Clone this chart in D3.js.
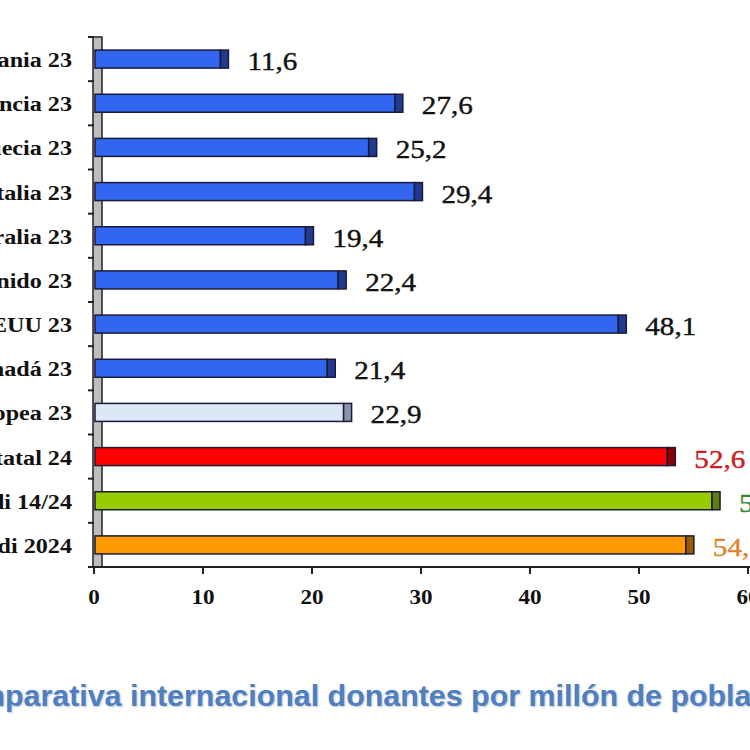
<!DOCTYPE html>
<html>
<head>
<meta charset="utf-8">
<script src="https://cdn.jsdelivr.net/npm/d3@7"></script>
<style>
  body { margin: 0; background: #fff; overflow: hidden; }
  svg { display: block; }
</style>
</head>
<body>
<div id="chart"></div>
<script>
// Chart data
const categories = ["Alemania 23", "Francia 23", "Suecia 23", "Italia 23", "Australia 23",
  "Reino Unido 23", "EEUU 23", "Canadá 23", "Unión Europea 23", "Media estatal 24",
  "Media Euskadi 14/24", "Euskadi 2024"];
const values = [11.6, 27.6, 25.2, 29.4, 19.4, 22.4, 48.1, 21.4, 22.9, 52.6, 56.7, 54.3];
const xTicks = [0, 10, 20, 30, 40, 50, 60];
const titleText = "Comparativa internacional donantes por millón de población";

// Colours per bar: face, end cap, value label
const faceColors = ["#3366f0", "#3366f0", "#3366f0", "#3366f0", "#3366f0", "#3366f0",
  "#3366f0", "#3366f0", "#dce8f7", "#ff0000", "#99cc00", "#ff9900"];
const capColors = ["#1f3a8f", "#1f3a8f", "#1f3a8f", "#1f3a8f", "#1f3a8f", "#1f3a8f",
  "#1f3a8f", "#1f3a8f", "#8a94a8", "#8b0000", "#5f7d10", "#9a5a00"];
const labelColors = ["#111", "#111", "#111", "#111", "#111", "#111",
  "#111", "#111", "#111", "#cc2020", "#2e8b2e", "#e0832a"];

const W = 750, H = 750;
const svg = d3.select("#chart").append("svg")
  .attr("width", W).attr("height", H);

const x = d3.scaleLinear().domain([0, 60]).range([94, 748]);
const y = d3.scaleBand().domain(categories).range([37, 567]);
const barH = 18, capW = 8;
const fmt = v => d3.format(".1f")(v).replace(".", ",");

// Grey 3D wall behind the bars
svg.append("rect")
  .attr("x", x(0) - 1).attr("y", 37)
  .attr("width", 9).attr("height", 567 - 37)
  .attr("fill", "#bdbdbd").attr("stroke", "#222").attr("stroke-width", 1.5);

// Y ticks at band boundaries
const bounds = categories.map(c => y(c)).concat([567]);
svg.selectAll("line.ytick").data(bounds).enter().append("line")
  .attr("class", "ytick")
  .attr("x1", x(0) - 6).attr("x2", x(0))
  .attr("y1", d => d).attr("y2", d => d)
  .attr("stroke", "#222").attr("stroke-width", 2);

// X axis line and ticks
svg.append("line")
  .attr("x1", x(0) - 1).attr("x2", W)
  .attr("y1", 567).attr("y2", 567)
  .attr("stroke", "#222").attr("stroke-width", 2);

svg.selectAll("line.xtick").data(xTicks).enter().append("line")
  .attr("class", "xtick")
  .attr("x1", d => x(d)).attr("x2", d => x(d))
  .attr("y1", 567).attr("y2", 574)
  .attr("stroke", "#222").attr("stroke-width", 2);

svg.selectAll("text.xlabel").data(xTicks).enter().append("text")
  .attr("class", "xlabel")
  .attr("transform", d => `translate(${x(d)},604) scale(1.1,1)`)
  .attr("text-anchor", "middle")
  .attr("font-family", "Liberation Serif, Times New Roman, serif")
  .attr("font-weight", "bold").attr("font-size", 21)
  .attr("fill", "#111")
  .text(d => d);

// Bars
const rows = svg.selectAll("g.row").data(categories).enter().append("g")
  .attr("class", "row")
  .attr("transform", d => `translate(0,${y(d) + y.bandwidth() / 2})`);

rows.append("rect")
  .attr("x", x(0) + 1)
  .attr("y", -barH / 2)
  .attr("width", (d, i) => x(values[i]) - x(0) - 1)
  .attr("height", barH)
  .attr("fill", (d, i) => faceColors[i])
  .attr("stroke", "#1a1a3a").attr("stroke-width", 1.5);

rows.append("rect")
  .attr("x", (d, i) => x(values[i]))
  .attr("y", -barH / 2)
  .attr("width", capW)
  .attr("height", barH)
  .attr("fill", (d, i) => capColors[i])
  .attr("stroke", "#1a1a3a").attr("stroke-width", 1.5);

// Category labels (clipped by the left edge as in the source)
rows.append("text")
  .attr("transform", "translate(72,8) scale(1.15,1)")
  .attr("text-anchor", "end")
  .attr("font-family", "Liberation Serif, Times New Roman, serif")
  .attr("font-weight", "bold").attr("font-size", 21)
  .attr("fill", "#111")
  .text(d => d);

// Value labels
rows.append("text")
  .attr("transform", (d, i) => `translate(${x(values[i]) + 27},11) scale(1.12,1)`)
  .attr("font-family", "Liberation Serif, Times New Roman, serif")
  .attr("font-size", 26)
  .attr("stroke", (d, i) => labelColors[i]).attr("stroke-width", 0.4)
  .attr("fill", (d, i) => labelColors[i])
  .text((d, i) => fmt(values[i]));

// Title, squeezed horizontally like the original condensed face
const title = svg.append("text")
  .attr("font-family", "Liberation Sans, Arial, sans-serif")
  .attr("font-weight", "bold").attr("font-size", 30)
  .attr("fill", "#4f7fbf")
  .style("text-shadow", "1px 1px 2px rgba(120,140,170,0.5)")
  .text(titleText);

const node = title.node();
const w1 = node.getSubStringLength(0, 3);            // "Com"
const w2 = node.getSubStringLength(0, titleText.indexOf("ción"));  // up to "pobla"
const sx = (752 - 5) / (w2 - w1);
title.attr("transform", `translate(${5 - w1 * sx},706) scale(${sx},1)`);
</script>
</body>
</html>
